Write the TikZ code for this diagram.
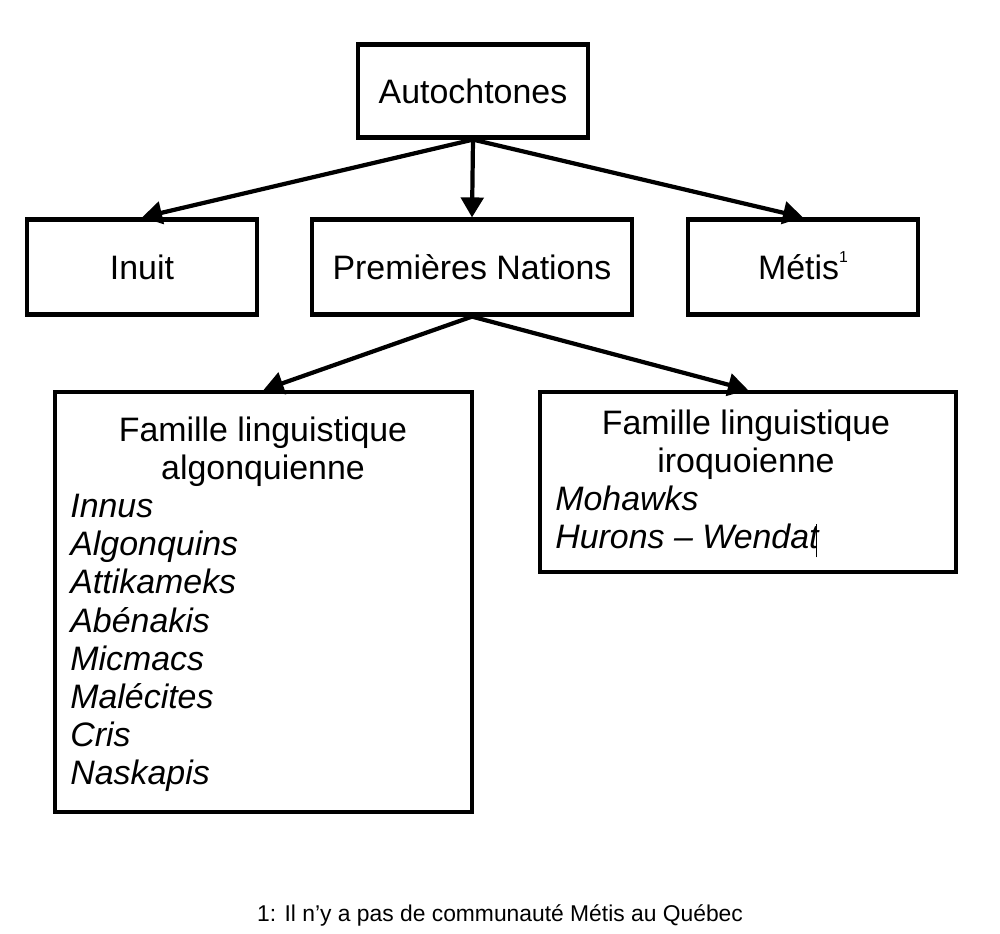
\documentclass[tikz,border=0pt]{standalone}
\usepackage{fontspec}
\setmainfont{Liberation Sans}
\usetikzlibrary{arrows.meta, positioning}

\begin{document}
\begin{tikzpicture}[x=0.02cm, y=-0.02cm,
    box/.style={draw, line width=2.4pt, inner sep=0pt},
    lbl/.style={font=\fontsize{19.3}{21.6}\selectfont},
    link/.style={line width=2.4pt, -{Triangle[length=0.4cm, width=0.45cm]}}]
    \useasboundingbox (0,0) rectangle (1000,933);

    % Top level
    \node[box, lbl, minimum width=4.6cm, minimum height=1.86cm] (auto) at (473,91) {Autochtones};

    % Second level
    \node[box, lbl, minimum width=4.6cm, minimum height=1.9cm] (inuit) at (142,267) {Inuit};
    \node[box, lbl, minimum width=6.4cm, minimum height=1.9cm] (nations) at (472,267) {Premières Nations};
    \node[box, lbl, minimum width=4.6cm, minimum height=1.9cm] (metis) at (803,267)
        {Métis\smash{\raisebox{0.5em}{\fontsize{9}{11}\selectfont 1}}};

    % Language families
    \node[box, minimum width=8.34cm, minimum height=8.4cm] (algo) at (263.5,602) {};
    \node[lbl, align=center] (algotitle) at (263,452) {Famille linguistique\\algonquienne};
    \node[lbl, align=left, anchor=west, inner sep=0pt, font=\fontsize{19.3}{21.75}\selectfont\itshape] (algolist) at (70,643)
        {Innus\\Algonquins\\Attikameks\\Abénakis\\Micmacs\\Malécites\\Cris\\Naskapis};

    \node[box, minimum width=8.32cm, minimum height=3.6cm] (iro) at (748,482) {};
    \node[lbl, align=center] (irotitle) at (746,445) {Famille linguistique\\iroquoienne};
    \node[lbl, align=left, anchor=west, inner sep=0pt, font=\fontsize{19.3}{21.75}\selectfont\itshape] (irolist) at (555,521.5)
        {Mohawks\\Hurons -- Wendat\kern-1.5pt\rule[-5pt]{0.7pt}{19pt}};

    % Arrows
    \draw[link] (auto.south) -- (inuit.north);
    \draw[link] (auto.south) -- (nations.north);
    \draw[link] (auto.south) -- (metis.north);
    \draw[link] (nations.south) -- (algo.north);
    \draw[link] (nations.south) -- (iro.north);

    % Footnote
    \node[font=\fontsize{13}{15}\selectfont] (note) at (500,915) {1: Il n’y a pas de communauté Métis au Québec};
\end{tikzpicture}
\end{document}
